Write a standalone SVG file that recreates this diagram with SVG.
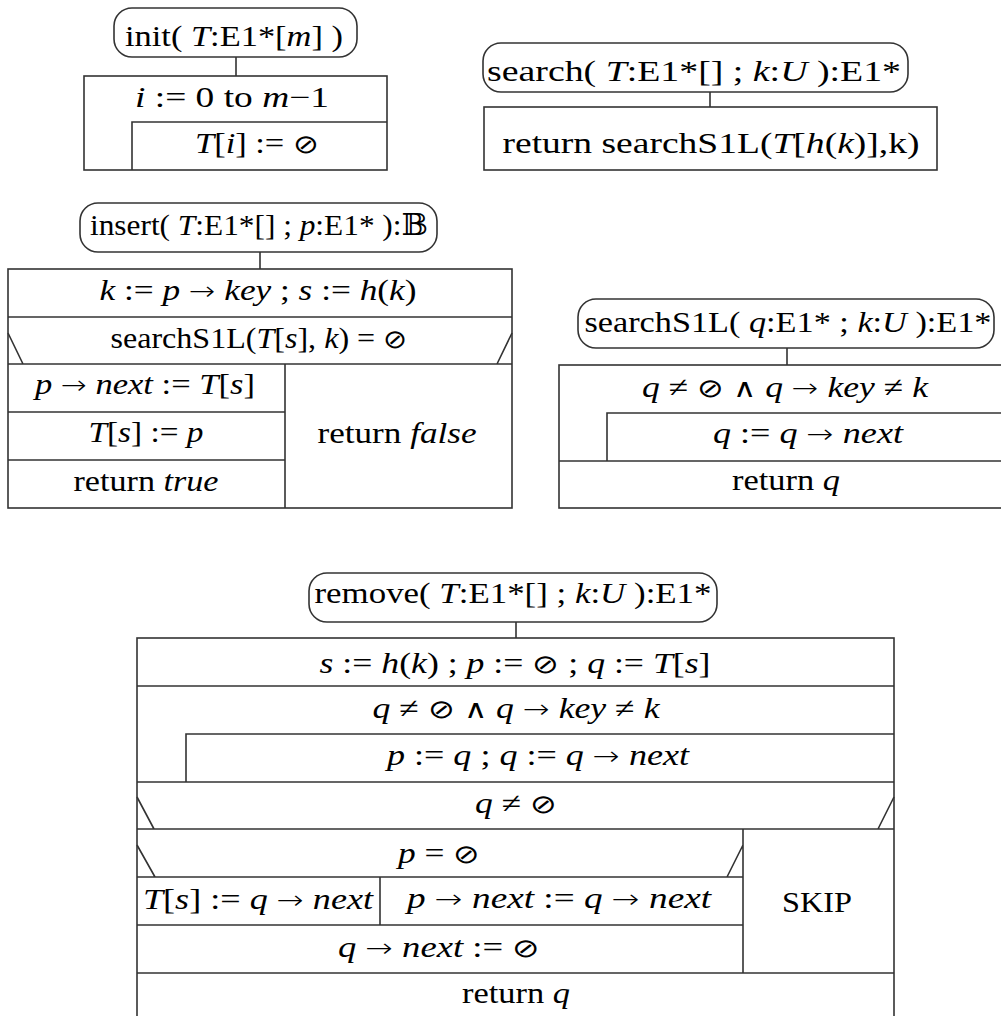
<svg xmlns="http://www.w3.org/2000/svg" width="1001" height="1016" viewBox="0 0 1001 1016">
<style>
.bg{fill:#ffffff}
.box,.term{fill:none;stroke:#333333;stroke-width:1.6}
.ln{fill:none;stroke:#333333;stroke-width:1.6}
text{font-family:"Liberation Serif","DejaVu Serif",serif;font-size:29px;fill:#000000;text-anchor:middle}
.i{font-style:italic}
.m{font-family:"DejaVu Sans",sans-serif;font-style:normal;font-weight:200;font-size:26px}
</style>
<rect class="bg" x="0" y="0" width="1001" height="1016"/>

<g id="init">
<rect class="term" x="114" y="8" width="243" height="49" rx="18"/>
<text x="234" y="46" textLength="218" lengthAdjust="spacingAndGlyphs">init( <tspan class="i">T</tspan>:E1*[<tspan class="i">m</tspan>] )</text>
<rect class="box" x="84" y="76" width="303" height="94"/>
<path class="ln" d="M132,170 V122 H387"/>
<text x="232" y="107" textLength="194" lengthAdjust="spacingAndGlyphs"><tspan class="i">i</tspan> := 0 to <tspan class="i">m</tspan>−1</text>
<text x="257" y="153" textLength="124" lengthAdjust="spacingAndGlyphs"><tspan class="i">T</tspan>[<tspan class="i">i</tspan>] := <tspan class="m">⊘</tspan></text>
</g>

<g id="search">
<rect class="term" x="483" y="43" width="425" height="49" rx="18"/>
<text x="694" y="81" textLength="414" lengthAdjust="spacingAndGlyphs">search( <tspan class="i">T</tspan>:E1*[] ; <tspan class="i">k</tspan>:<tspan class="i">U</tspan> ):E1*</text>
<rect class="box" x="484" y="107" width="453" height="63"/>
<text x="711" y="153" textLength="417" lengthAdjust="spacingAndGlyphs">return searchS1L(<tspan class="i">T</tspan>[<tspan class="i">h</tspan>(<tspan class="i">k</tspan>)],k)</text>
</g>

<g id="insert">
<rect class="term" x="80" y="203" width="357" height="49" rx="18"/>
<text x="259" y="235" textLength="338" lengthAdjust="spacingAndGlyphs">insert( <tspan class="i">T</tspan>:E1*[] ; <tspan class="i">p</tspan>:E1* ):𝔹</text>
<rect class="box" x="8" y="269" width="504" height="239"/>
<path class="ln" d="M8,317 H512 M8,364 H512 M8,333 L23,364 M512,333 L497,364 M285,364 V508 M8,412 H285 M8,460 H285"/>
<text x="258" y="300" textLength="317" lengthAdjust="spacingAndGlyphs"><tspan class="i">k</tspan> := <tspan class="i">p</tspan> <tspan class="m">→</tspan> <tspan class="i">key</tspan> ; <tspan class="i">s</tspan> := <tspan class="i">h</tspan>(<tspan class="i">k</tspan>)</text>
<text x="259" y="348" textLength="297" lengthAdjust="spacingAndGlyphs">searchS1L(<tspan class="i">T</tspan>[<tspan class="i">s</tspan>], <tspan class="i">k</tspan>) = <tspan class="m">⊘</tspan></text>
<text x="145" y="394" textLength="220" lengthAdjust="spacingAndGlyphs"><tspan class="i">p</tspan> <tspan class="m">→</tspan> <tspan class="i">next</tspan> := <tspan class="i">T</tspan>[<tspan class="i">s</tspan>]</text>
<text x="146" y="442" textLength="115" lengthAdjust="spacingAndGlyphs"><tspan class="i">T</tspan>[<tspan class="i">s</tspan>] := <tspan class="i">p</tspan></text>
<text x="146" y="491" textLength="145" lengthAdjust="spacingAndGlyphs">return <tspan class="i">true</tspan></text>
<text x="397" y="443" textLength="159" lengthAdjust="spacingAndGlyphs">return <tspan class="i">false</tspan></text>
</g>

<g id="searchS1L">
<rect class="term" x="578" y="299" width="416" height="49" rx="18"/>
<text x="788" y="332" textLength="407" lengthAdjust="spacingAndGlyphs">searchS1L( <tspan class="i">q</tspan>:E1* ; <tspan class="i">k</tspan>:<tspan class="i">U</tspan> ):E1*</text>
<rect class="box" x="559" y="365" width="460" height="143"/>
<path class="ln" d="M607,461 V413 H1019 M559,461 H1019"/>
<text x="785" y="397" textLength="286" lengthAdjust="spacingAndGlyphs"><tspan class="i">q</tspan> ≠ <tspan class="m">⊘</tspan> <tspan class="m">∧</tspan> <tspan class="i">q</tspan> <tspan class="m">→</tspan> <tspan class="i">key</tspan> ≠ <tspan class="i">k</tspan></text>
<text x="808" y="443" textLength="190" lengthAdjust="spacingAndGlyphs"><tspan class="i">q</tspan> := <tspan class="i">q</tspan> <tspan class="m">→</tspan> <tspan class="i">next</tspan></text>
<text x="786" y="490" textLength="108" lengthAdjust="spacingAndGlyphs">return <tspan class="i">q</tspan></text>
</g>

<g id="remove">
<rect class="term" x="309" y="573" width="408" height="49" rx="18"/>
<text x="513" y="603" textLength="397" lengthAdjust="spacingAndGlyphs">remove( <tspan class="i">T</tspan>:E1*[] ; <tspan class="i">k</tspan>:<tspan class="i">U</tspan> ):E1*</text>
<rect class="box" x="137" y="638" width="757" height="383"/>
<path class="ln" d="M137,686 H894 M186,782 V734 H894 M137,782 H894 M137,797 L154,829 M894,797 L878,829 M137,829 H894 M743,829 V973 M137,845 L155,877 M743,845 L727,877 M137,877 H743 M380,877 V925 M137,925 H743 M137,973 H894"/>
<text x="515" y="673" textLength="391" lengthAdjust="spacingAndGlyphs"><tspan class="i">s</tspan> := <tspan class="i">h</tspan>(<tspan class="i">k</tspan>) ; <tspan class="i">p</tspan> := <tspan class="m">⊘</tspan> ; <tspan class="i">q</tspan> := <tspan class="i">T</tspan>[<tspan class="i">s</tspan>]</text>
<text x="516" y="718" textLength="287" lengthAdjust="spacingAndGlyphs"><tspan class="i">q</tspan> ≠ <tspan class="m">⊘</tspan> <tspan class="m">∧</tspan> <tspan class="i">q</tspan> <tspan class="m">→</tspan> <tspan class="i">key</tspan> ≠ <tspan class="i">k</tspan></text>
<text x="538" y="765" textLength="302" lengthAdjust="spacingAndGlyphs"><tspan class="i">p</tspan> := <tspan class="i">q</tspan> ; <tspan class="i">q</tspan> := <tspan class="i">q</tspan> <tspan class="m">→</tspan> <tspan class="i">next</tspan></text>
<text x="516" y="813" textLength="82" lengthAdjust="spacingAndGlyphs"><tspan class="i">q</tspan> ≠ <tspan class="m">⊘</tspan></text>
<text x="439" y="863" textLength="82" lengthAdjust="spacingAndGlyphs"><tspan class="i">p</tspan> = <tspan class="m">⊘</tspan></text>
<text x="258" y="909" textLength="230" lengthAdjust="spacingAndGlyphs"><tspan class="i">T</tspan>[<tspan class="i">s</tspan>] := <tspan class="i">q</tspan> <tspan class="m">→</tspan> <tspan class="i">next</tspan></text>
<text x="559" y="908" textLength="304" lengthAdjust="spacingAndGlyphs"><tspan class="i">p</tspan> <tspan class="m">→</tspan> <tspan class="i">next</tspan> := <tspan class="i">q</tspan> <tspan class="m">→</tspan> <tspan class="i">next</tspan></text>
<text x="439" y="957" textLength="202" lengthAdjust="spacingAndGlyphs"><tspan class="i">q</tspan> <tspan class="m">→</tspan> <tspan class="i">next</tspan> := <tspan class="m">⊘</tspan></text>
<text x="817" y="912" textLength="70" lengthAdjust="spacingAndGlyphs">SKIP</text>
<text x="516" y="1003" textLength="108" lengthAdjust="spacingAndGlyphs">return <tspan class="i">q</tspan></text>
</g>

<g id="connectors">
<path class="ln" d="M236,57 V76 M710,92 V107 M260,252 V269 M787,348 V365 M516,622 V638"/>
</g>
</svg>
